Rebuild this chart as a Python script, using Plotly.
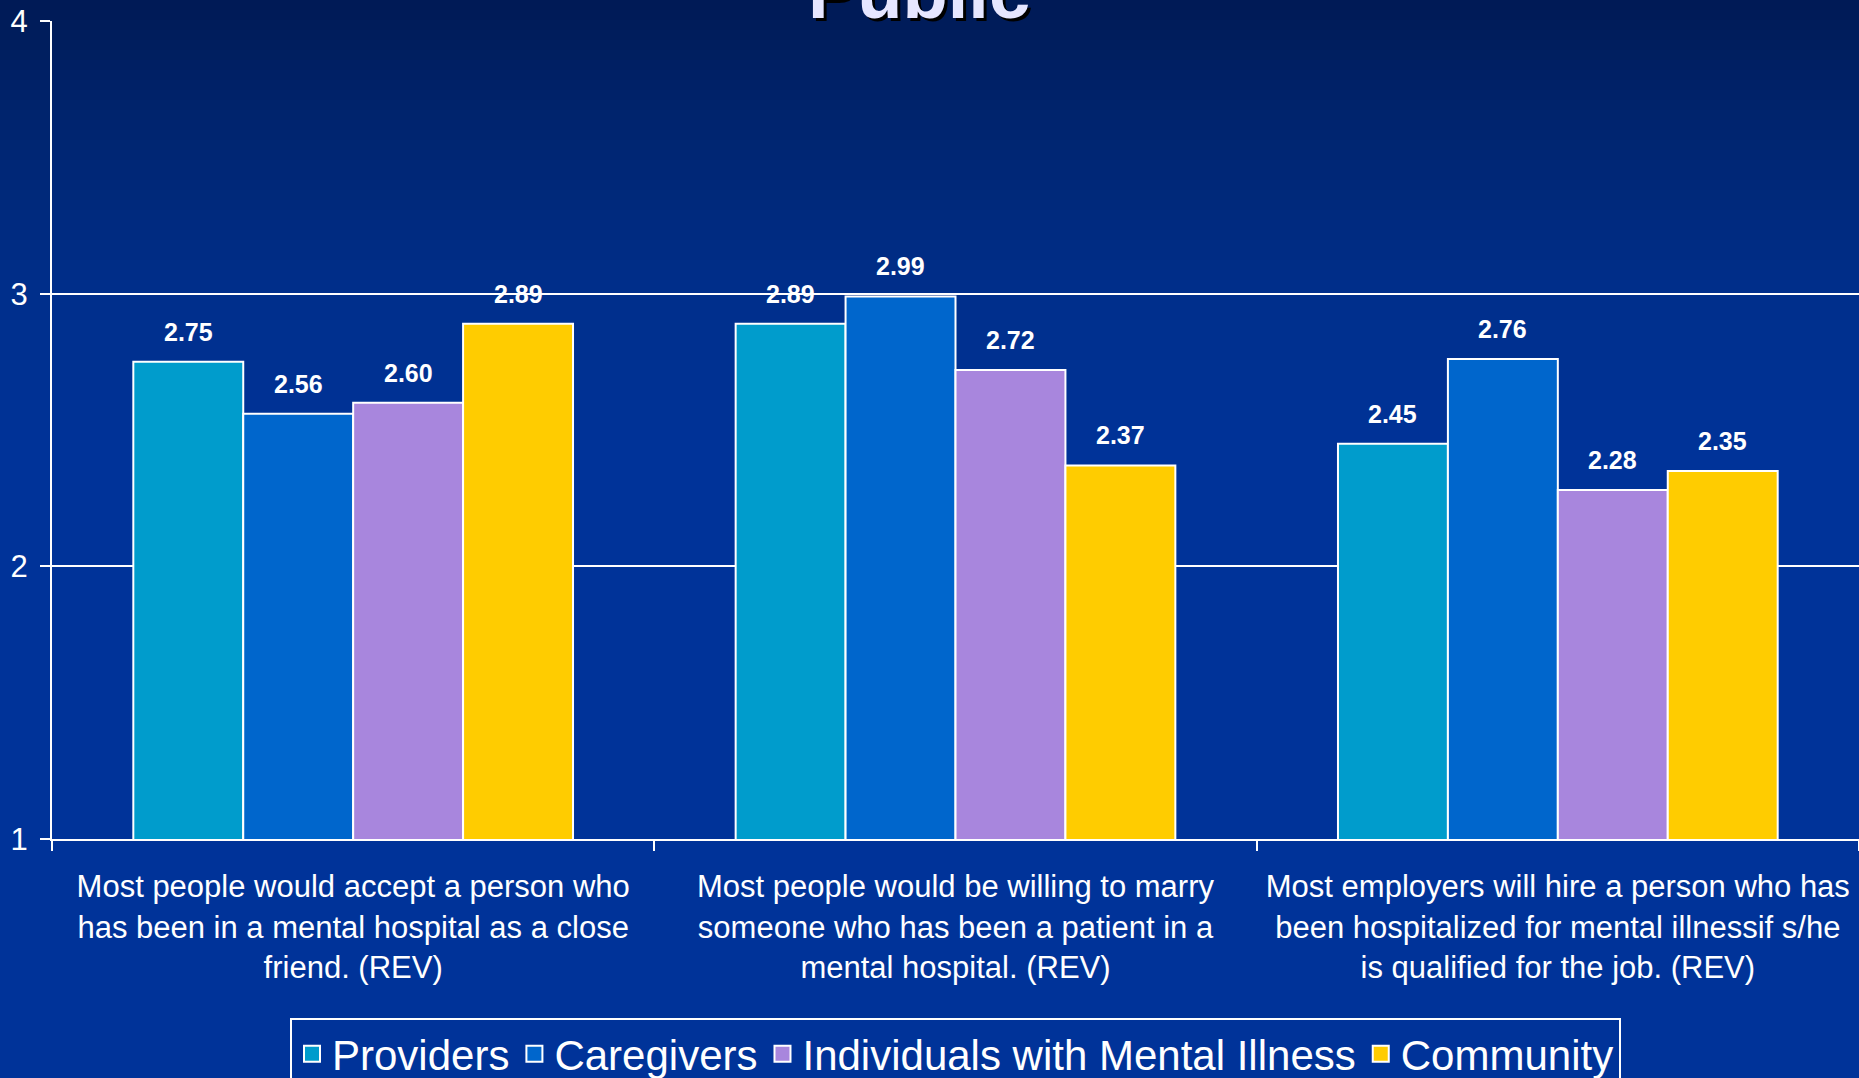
import plotly.graph_objects as go

# ---------------- data ----------------
categories = [
    "Most people would accept a person who<br>has been in a mental hospital as a close<br>friend. (REV)",
    "Most people would be willing to marry<br>someone who has been a patient in a<br>mental hospital. (REV)",
    "Most employers will hire a person who has<br>been hospitalized for mental illnessif s/he<br>is qualified for the job. (REV)",
]
series_names = ["Providers", "Caregivers", "Individuals with Mental Illness", "Community"]
providers = [2.75, 2.89, 2.45]
caregivers = [2.56, 2.99, 2.76]
individuals = [2.60, 2.72, 2.28]
community = [2.89, 2.37, 2.35]
y_tick_values = [1, 2, 3, 4]
title_text = "Public"

series_values = [providers, caregivers, individuals, community]
colors = ["#009CCC", "#0066CC", "#A886DD", "#FFCC00"]
FONT = "Liberation Sans, Arial, sans-serif"
BARGAP = 0.27

fig = go.Figure()

for name, vals, col in zip(series_names, series_values, colors):
    fig.add_trace(go.Bar(
        x=categories, y=vals, name=name, showlegend=False,
        marker=dict(color=col, line=dict(color="white", width=2)),
        hoverinfo="y",
    ))

# legend proxies (bigger square swatches)
for name, col in zip(series_names, colors):
    fig.add_trace(go.Scatter(
        x=[None], y=[None], mode="markers", name=name,
        marker=dict(symbol="square", size=22, color=col, line=dict(color="white", width=2)),
    ))

# value labels
n = len(series_names)
bar_w = (1 - BARGAP) / n
annotations = []
for si, vals in enumerate(series_values):
    for ci, v in enumerate(vals):
        annotations.append(dict(
            x=ci + (si - (n - 1) / 2) * bar_w, y=v, xref="x", yref="y",
            text=f"<b>{v:.2f}</b>", showarrow=False, yanchor="bottom",
            yshift=14, font=dict(family=FONT, size=25, color="white"),
        ))

# title (partially cut off at top, as in the reference)
annotations.append(dict(
    x=0.48, y=0.982, xref="paper", yref="paper", text=f"<b>{title_text}</b>",
    showarrow=False, yanchor="bottom", xanchor="center",
    font=dict(family=FONT, size=74, color="#E6E6FF", shadow="3px 3px 0px #000000"),
))

# background gradient (decorative)
W, H = 1859, 1078
ml, mr, mt, mb = 52, 0, 21, 239
ph = H - mt - mb
stops = [(0, (0, 26, 85)), (120, (0, 36, 110)), (300, (0, 47, 140)), (460, (0, 51, 153))]
shapes = []
band = 10
for top in range(0, 460, band):
    for (y0, c0), (y1, c1) in zip(stops[:-1], stops[1:]):
        if y0 <= top < y1:
            t = (top + band / 2 - y0) / (y1 - y0)
            c = tuple(round(a + (b - a) * t) for a, b in zip(c0, c1))
            break
    shapes.append(dict(
        type="rect", xref="paper", yref="paper", layer="below",
        x0=-0.1, x1=1.1,
        y0=1 + (mt - top - band - 1) / ph, y1=1 + (mt - top) / ph,
        fillcolor=f"rgb{c}", line=dict(width=0),
    ))

legend_top_px = 1018
fig.update_layout(
    width=W, height=H,
    barmode="group", bargap=BARGAP, bargroupgap=0,
    paper_bgcolor="#003399", plot_bgcolor="rgba(0,0,0,0)",
    margin=dict(l=ml, r=mr, t=mt, b=mb, autoexpand=False),
    font=dict(family=FONT, color="white"),
    shapes=shapes,
    annotations=annotations,
    legend=dict(
        orientation="h", x=0.5, xanchor="center", y=-(legend_top_px - (H - mb)) / ph,
        yanchor="top", font=dict(family=FONT, size=42, color="white"),
        bgcolor="rgba(0,0,0,0)", bordercolor="white", borderwidth=2,
        itemwidth=30, tracegroupgap=0,
    ),
    showlegend=True,
)

fig.update_xaxes(
    type="category", tickson="boundaries", ticks="outside", ticklen=10,
    tickcolor="white", tickwidth=2, showline=True, linecolor="white", linewidth=2,
    showgrid=False, tickfont=dict(family=FONT, size=31, color="white"),
    ticklabelstandoff=19, automargin=False, fixedrange=True,
)
fig.update_yaxes(
    range=[1, 4], tickvals=y_tick_values, ticks="outside", ticklen=10,
    tickcolor="white", tickwidth=2, showline=True, linecolor="white", linewidth=2,
    showgrid=True, gridcolor="white", gridwidth=2, zeroline=False,
    tickfont=dict(family=FONT, size=31, color="white"),
    ticklabelstandoff=6, automargin=False, fixedrange=True,
)

fig.write_html("out.html")
